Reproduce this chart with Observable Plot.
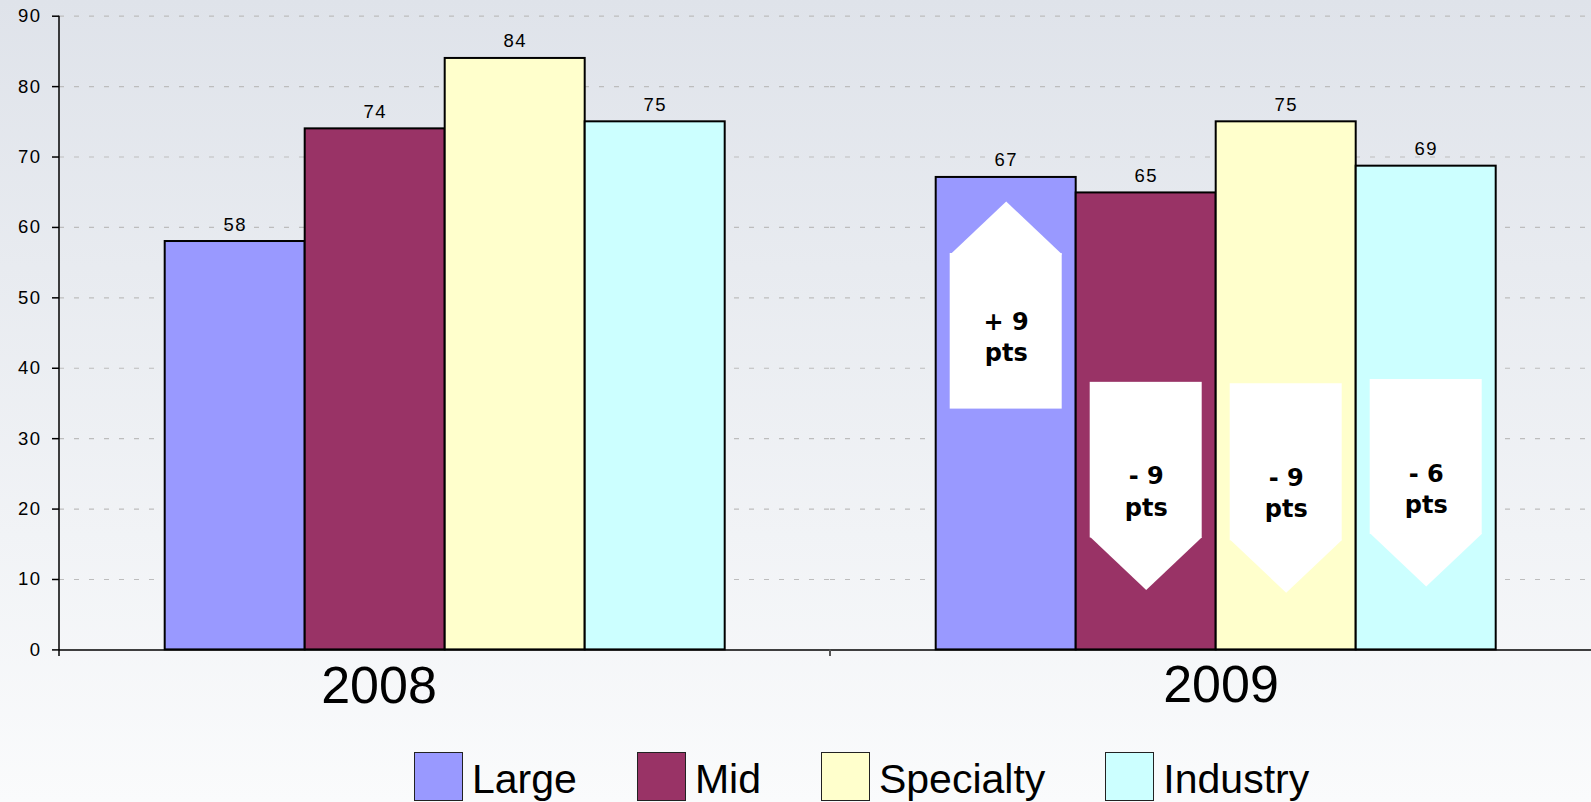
<!DOCTYPE html>
<html>
<head>
<meta charset="utf-8">
<script src="https://cdn.jsdelivr.net/npm/d3@7"></script>
<script src="https://cdn.jsdelivr.net/npm/@observablehq/plot@0.6"></script>
<style>
  html, body { margin: 0; padding: 0; width: 1591px; height: 802px; overflow: hidden;
    background: linear-gradient(to bottom, #dfe3ea 0%, #fafbfc 100%); }
  #chart { position: absolute; left: 0; top: 0; }
  #legend { position: absolute; left: 414px; top: 752px; display: flex; align-items: flex-start;
    font-family: "Liberation Sans", Arial, sans-serif; font-size: 41px; color: #000; }
  .item { display: flex; align-items: flex-start; margin-right: 60px; }
  .sw { width: 49px; height: 49px; border: 1.5px solid #222; box-sizing: border-box; margin-right: 9px; }
  .lab { line-height: 1; margin-top: 6.5px; white-space: nowrap; }
</style>
</head>
<body>
<div id="chart"></div>
<div id="legend"></div>
<script>
// ---- data ----
const years = ["2008", "2009"];
const series = ["Large", "Mid", "Specialty", "Industry"];
const colors = ["#9999ff", "#993366", "#ffffcc", "#ccffff"];
const values2008 = [58, 74, 84, 75];
const values2009 = [67.1, 64.9, 75, 68.7];
const yTicks = [0, 10, 20, 30, 40, 50, 60, 70, 80, 90];

// change annotations on the 2009 bars
const changeLabels = ["+ 9", "- 9", "- 9", "- 6"];
const changeUnit = "pts";
const arrowDirections = ["up", "down", "down", "down"];
const arrowBase = [34.2, 38.0, 37.8, 38.4];      // flat end of the arrow
const arrowShoulder = [56.3, 15.9, 15.5, 16.4];  // where the head starts
const labelY = [44.7, 22.7, 22.5, 23.1];

// ---- tables ----
const valuesByYear = [values2008, values2009];
const rows = [];
years.forEach((yr, i) => series.forEach((s, j) => rows.push({year: yr, series: s, value: valuesByYear[i][j]})));
const arrows = series.map((s, j) => ({
  year: years[1], series: s, dir: arrowDirections[j],
  y1: arrowBase[j], y2: arrowShoulder[j], ly: labelY[j],
  text: changeLabels[j] + "\n" + changeUnit
}));

const upHead = { draw(ctx) { ctx.moveTo(-56, 1); ctx.lineTo(0, -52); ctx.lineTo(56, 1); ctx.closePath(); } };
const downHead = { draw(ctx) { ctx.moveTo(-56, -1); ctx.lineTo(0, 52); ctx.lineTo(56, -1); ctx.closePath(); } };

const plot = Plot.plot({
  width: 1591,
  height: 740,
  marginTop: 15.7,
  marginBottom: 90.6,
  marginLeft: 58.3,
  marginRight: 0,
  style: { background: "transparent", fontFamily: "'Liberation Sans', Arial, sans-serif", fontSize: "18.5px", overflow: "visible", color: "#000" },
  fx: { domain: years, range: [58.3, 1602], padding: 0, axis: null, label: null },
  x: { domain: series, paddingInner: 0, paddingOuter: 0.75, axis: null, label: null },
  y: { domain: [0, 90], ticks: yTicks, tickSize: 7, tickPadding: 11, label: null },
  color: { domain: series, range: colors },
  marks: [
    Plot.ruleY(yTicks.filter(v => v > 0), { stroke: "#bdbdbd", strokeDasharray: "5,10", strokeWidth: 1.2 }),
    Plot.barY(rows, { fx: "year", x: "series", y: "value", fill: "series", stroke: "#000", strokeWidth: 2 }),
    Plot.text(rows, { fx: "year", x: "series", y: "value", text: d => d3.format(".0f")(d.value),
      lineAnchor: "bottom", dy: -11, fontSize: 18.5, fill: "#000" }),
    Plot.barY(arrows, { fx: "year", x: "series", y1: "y1", y2: "y2", fill: "white", insetLeft: 14, insetRight: 14 }),
    Plot.dot(arrows.filter(d => d.dir === "up"), { fx: "year", x: "series", y: "y2", symbol: upHead, fill: "white", stroke: "none" }),
    Plot.dot(arrows.filter(d => d.dir === "down"), { fx: "year", x: "series", y: "y2", symbol: downHead, fill: "white", stroke: "none" }),
    Plot.text(arrows, { fx: "year", x: "series", y: "ly", text: "text", fontFamily: "'DejaVu Sans', sans-serif",
      fontWeight: "bold", fontSize: 24, lineHeight: 1.3, fill: "#000" }),
    Plot.ruleY([0], { stroke: "#000", strokeWidth: 1.5 }),
    Plot.text([years[0]], { fx: d => d, text: d => d, frameAnchor: "bottom", lineAnchor: "top", dy: 16.6, dx: -66, fontSize: 52, fill: "#000" }),
    Plot.text([years[1]], { fx: d => d, text: d => d, frameAnchor: "bottom", lineAnchor: "top", dy: 15.5, dx: 5, fontSize: 52, fill: "#000" })
  ]
});

document.getElementById("chart").appendChild(plot);

// axis line and category boundary ticks from the plot's own scales
const fxS = plot.scale("fx"), yS = plot.scale("y");
const svg = d3.select(plot);
svg.selectAll('g[aria-label="y-axis tick"]').attr("stroke", "#707070").attr("stroke-width", 1.5);
svg.selectAll('g[aria-label="y-axis tick label"]').style("letter-spacing", "1.5px");
const textGroups = svg.selectAll('g[aria-label="text"]').nodes();
if (textGroups.length) d3.select(textGroups[0]).style("letter-spacing", "1.5px");
const g = svg.append("g");
const x0 = fxS.apply(years[0]);
g.append("line").attr("x1", x0).attr("x2", x0).attr("y1", yS.apply(90)).attr("y2", yS.apply(0) + 6.5)
  .attr("stroke", "#000").attr("stroke-width", 1.5);
years.slice(1).forEach(yr => {
  const x = fxS.apply(yr);
  g.append("line").attr("x1", x).attr("x2", x).attr("y1", yS.apply(0)).attr("y2", yS.apply(0) + 6.5)
    .attr("stroke", "#555").attr("stroke-width", 2);
});

// legend
const legend = d3.select("#legend");
series.forEach((s, i) => {
  const item = legend.append("div").attr("class", "item");
  item.append("div").attr("class", "sw").style("background", colors[i]);
  item.append("div").attr("class", "lab").text(s);
});
</script>
</body>
</html>
